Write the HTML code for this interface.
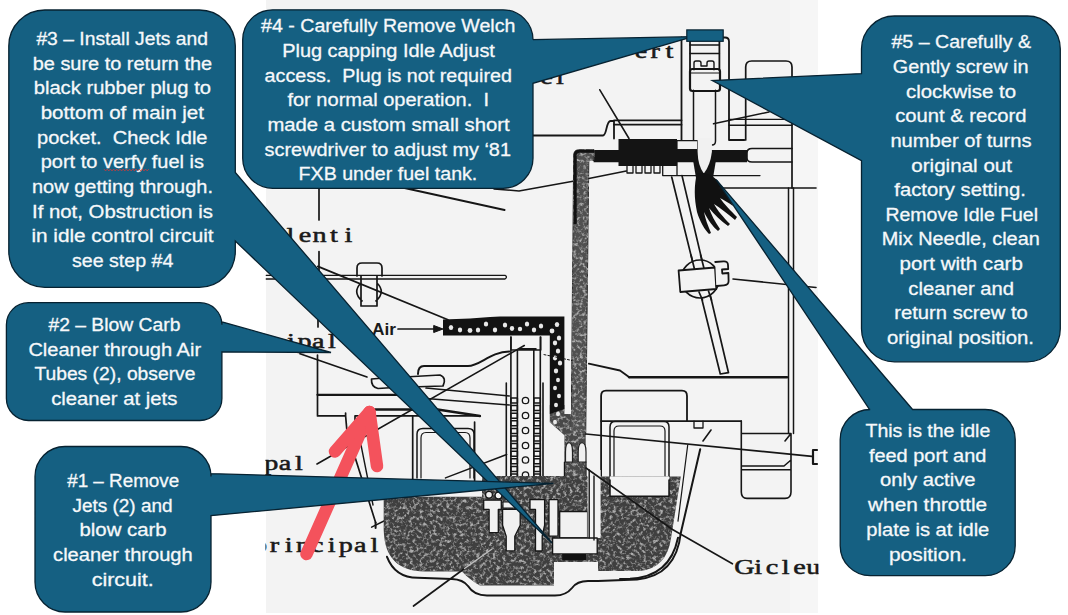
<!DOCTYPE html>
<html><head><meta charset="utf-8"><style>
html,body{margin:0;padding:0;background:#fff;width:1068px;height:615px;overflow:hidden}
svg{position:absolute;left:0;top:0}
text{font-family:"Liberation Sans",sans-serif}
.tw{font-family:"Liberation Serif",serif;font-weight:normal}
</style></head><body>
<svg width="1068" height="615" viewBox="0 0 1068 615">
<rect x="0" y="0" width="1068" height="615" fill="#fff"/>
<defs><clipPath id="scanclip"><rect x="265.5" y="0" width="553" height="613"/></clipPath><filter id="tex" x="0" y="0" width="1" height="1" color-interpolation-filters="sRGB"><feTurbulence type="fractalNoise" baseFrequency="0.3" numOctaves="3" seed="7" result="n"/><feColorMatrix in="n" type="matrix" values="0 0 0 0 0.68 0 0 0 0 0.68 0 0 0 0 0.68 3.4 0 0 0 -1.6" result="s"/><feComposite in="s" in2="SourceAlpha" operator="in" result="s2"/><feMerge><feMergeNode in="SourceGraphic"/><feMergeNode in="s2"/></feMerge></filter></defs>
<g id="scan"><rect x="266" y="0" width="552" height="613" fill="#f3f3f3"/><rect x="790" y="0" width="28" height="613" fill="#f6f6f6"/></g>
<g id="diag" clip-path="url(#scanclip)" fill="none" stroke="#161616" stroke-width="1.8" stroke-linecap="round" stroke-linejoin="round">
<!-- top text -->
<!-- needle assembly -->
<path d="M681.5,37.5 V140"/>
<path d="M723,37.5 H725 Q729,37.5 729,41.5 V140 H744.3"/>
<path d="M690,37.5 V70 M719.4,37.5 V70"/>
<rect x="690" y="69" width="30" height="22" rx="2.5" stroke-width="2.2"/>
<path d="M690,44.9 H719.4" stroke-width="1.5"/><path d="M690,53.6 H719.4" stroke-width="1.5"/>
<path d="M694,69.7 V63 Q694,61 696,61 H699 Q701,61 701,63 V66 H707 V63 Q707,61 709,61 H712 Q714,61 714,63 V69.7" stroke-width="1.4"/>
<path d="M690,73 H719.4" stroke-width="1.2"/>
<path d="M693.5,90.2 V141 Q693.5,145 697,145 M715.5,90.2 V141 Q715.5,145 712,145" stroke-width="1.5"/>
<path d="M745.7,140 V67 Q745.7,61 751.7,61 H786 Q792,61 792,67 V188" stroke-width="1.7"/>
<path d="M713.5,123.8 L769,112" stroke-width="1.5"/>
<path d="M729,119.4 H792" stroke-width="1.4"/><path d="M729,125.3 H792" stroke-width="1.4"/>
<!-- black band -->
<path d="M593.6,149.9 H618.5 V139.1 H677 V140.7 H697.6 V149.9 H747 V162.3 H593.6 Z" fill="#141414" stroke="none"/>
<path d="M677,140.7 H697.6 V149.7 H677 Z" fill="#f1f1f1" stroke="#161616" stroke-width="1.2"/>
<path d="M618.5,161 H677 V166 H618.5 Z" fill="#141414" stroke="none"/>
<path d="M693,160 H716 L713,178 H696 Z" fill="#141414" stroke="none"/>
<path d="M697.6,138 L697.6,152 Q698,166 703.8,173.5 Q710,166 711.9,152 L711.9,138 Z" fill="#f1f1f1" stroke="none"/>
<path d="M752,148.5 H792 M752,162 H792 M752,148.5 Q747,148.5 747,153 V158 Q747,162 752,162" stroke-width="1.6"/>
<path d="M627,166.3 V173 H633 V166.3 M636,166.3 V173 H642 V166.3 M645,166.3 V173 H651 V166.3 M654,166.3 V173 H660 V166.3" stroke-width="1.3"/>
<path d="M662.7,166 V175.6 H760 M677,175.6 V161" stroke-width="1.3"/>
<path d="M533,135.5 H603 C607,135.5 606,121 610.5,121 H614 V138.5" stroke-width="1.8"/>
<path d="M614,120.3 H681.5"/><path d="M614,124.7 H681.5"/>
<path d="M599.8,89.8 L629,138.5" stroke-width="1.6"/>
<!-- fan spray -->
<path d="M697,173 C694,185 694,198 697,212 C700,222 705,230 709,234 L711,233 C708,226 705,218 704,212 C708,220 713,227 718,231 L720,229 C715,222 711,214 709,208 C714,214 721,221 728,226 L730,224 C724,218 717,210 714,204 C720,208 728,214 735,220 L737,217 C731,211 724,204 720,198 C724,200 729,203 733,206 C729,196 722,186 717,180 L711,175 L704,173 Z" fill="#111" stroke="none"/>
<path d="M719,188 H816" stroke-width="1.6"/>
<!-- gray pipe -->
<path d="M573.7,155 Q573.7,149.8 579,149.8 H594.1 V160.5 H588.8 L585.7,435 H571.5 Z" fill="#505050" stroke="#2a2a2a" stroke-width="1" filter="url(#tex)"/>
<path d="M575.2,224 V155.5 Q575.2,151.3 579.5,151.3 H594" stroke="#111" stroke-width="3" stroke-linecap="butt"/>
<path d="M494,189 L519,191 L573,181.3 M588.8,178.5 L626.3,170.9" stroke-width="1.5"/>
<path d="M400,187 L504.6,210" stroke-width="1.8"/>
<path d="M266,275.3 H505 Q508,277 505,279 H266" stroke-width="1.3"/>
<path d="M588.8,363.6 L620,370.5 L629.3,377.3" stroke-width="1.8"/>
<path d="M629.3,377.3 H787" stroke-width="2.6"/>
<!-- left lines -->
<path d="M319,188 V220 M319,251.5 V272 M318,281 V327 M317.5,355 V415" stroke-width="1.7"/>
<path d="M357,276 V268 Q357,263 362,263 H377 Q382,263 382,268 V276 M361,276 V306 H377 V276 M361,283 Q352,292 362,301 M377,283 Q386,292 376,301" stroke-width="1.7"/>
<path d="M317.8,266.4 L448,319.8" stroke-width="1.7"/>
<text x="372" y="334.5" font-size="16" font-weight="bold" fill="#1a1a1a" stroke="none" textLength="24" lengthAdjust="spacingAndGlyphs">Air</text>
<path d="M398,329 H436" stroke-width="1.7"/><path d="M434,325.6 L443,329 L434,332.4 Z" fill="#161616" stroke-width="1"/>
<path d="M300,353.7 L367,377" stroke-width="1.7"/>
<path d="M371.5,379 L396,377 Q399,382 394,387.5 L378,388.5 Q371,387 371.5,379 Z" stroke-width="1.7"/>
<path d="M396,377.5 L440,375 Q447,378 443,386 L394,387.5" stroke-width="1.7"/>
<path d="M317.5,394.8 H400" stroke-width="2.3"/>

<path d="M317.5,415.9 H345.6 L347,431.8 L375.6,522.4 M345.6,415.9 V413 M355,415.9 H480 M355,415.9 V423.4 H362.4 V415.9" stroke-width="1.7"/>
<path d="M375,409.5 H437.6 L480,416" stroke-width="2.3"/>
<path d="M361,445 L373,505" stroke-width="1.4"/>
<path d="M317,464 L524.3,345.5" stroke-width="1.6"/>
<path d="M418,374 Q418,366 424,366 H468 C480,366 490,352 509.3,351.5" stroke-width="2"/>
<path d="M426,388.1 L509.3,396 M426,398.5 L509.3,405" stroke-width="1.5"/>
<path d="M474.6,422 V480.5 M412.7,416 V497" stroke-width="1.7"/>
<path d="M417,478 V434 Q417,428.4 423,428.4 H468 Q474,428.4 474,434 V478" stroke-width="1.5"/>
<path d="M421,478 V438 Q421,432.5 426,432.5 H465 Q470,432.5 470,438 V478" stroke-width="1.2"/>
<path d="M445.5,477.9 L506.7,454.5" stroke-width="1.5"/>
<path d="M371.6,527.2 L387,519.5" stroke-width="1.5"/>
<!-- perforated L -->
<path d="M549.8,405 H564.4 V414 H571.5 V435 L585.7,435 V476 H564.4 V435.3 L549.8,422.3 Z" fill="#484848" stroke="none" filter="url(#tex)"/>
<path d="M443,319.5 L470,318.5 L490,317 L500,316.4 H564.4 V409 L549.8,414 V335.5 H443 Z" fill="#121212" stroke="none"/>
<path d="M565.5,462 V452 Q565.5,442.6 569,442.6 Q572.5,442.6 572.5,452 V462 Z M578.2,462 V452 Q578.2,442.6 582,442.6 Q586,442.6 586,452 V462 Z" fill="#efefef" stroke="#222" stroke-width="1.2"/>
<path d="M564.4,462 V476 M586,462 V476" stroke-width="1.2"/>
<g fill="#e8e8e8" stroke="none">
<ellipse cx="451" cy="327.5" rx="2.2" ry="2.6"/><ellipse cx="460" cy="330" rx="2.2" ry="2.4"/><ellipse cx="470" cy="330.5" rx="2.4" ry="2.4"/><ellipse cx="478" cy="330" rx="2.2" ry="2.6"/><ellipse cx="486" cy="324" rx="2.2" ry="2.6"/><ellipse cx="495" cy="330" rx="2.2" ry="2.4"/><ellipse cx="505" cy="325" rx="2.2" ry="2.6"/><ellipse cx="512" cy="328.5" rx="2.2" ry="2.4"/><ellipse cx="520" cy="329" rx="2.2" ry="2.2"/><ellipse cx="527" cy="324" rx="2.2" ry="2.6"/><ellipse cx="534" cy="330" rx="2.2" ry="2.4"/><ellipse cx="541" cy="326" rx="2.2" ry="2.6"/><ellipse cx="552" cy="331" rx="2.4" ry="2.4"/><ellipse cx="557" cy="324.5" rx="2.2" ry="2.6"/>
<ellipse cx="559" cy="338" rx="2.2" ry="2.6"/><ellipse cx="555" cy="343" rx="2.2" ry="2.4"/><ellipse cx="558" cy="351" rx="2.2" ry="2.6"/><ellipse cx="555" cy="358" rx="2.2" ry="2.4"/><ellipse cx="560" cy="363" rx="2.2" ry="2.6"/><ellipse cx="556" cy="371" rx="2.2" ry="2.4"/><ellipse cx="558" cy="380" rx="2" ry="2.2"/><ellipse cx="555" cy="388" rx="2" ry="2.2"/><ellipse cx="559" cy="396" rx="2" ry="2.2"/><ellipse cx="556" cy="405" rx="2" ry="2.2"/><ellipse cx="558" cy="414" rx="2" ry="2.2"/><ellipse cx="555" cy="422" rx="2" ry="2.2"/>
</g>
<path d="M544,354.6 L572,360.5" stroke-width="1" stroke-dasharray="2 2"/>
<!-- emulsion tube -->
<path d="M506.3,383 V485 M510.9,337 V485 M517.4,350 V485 M533.8,350 V485 M540.3,337 V485 M543,383 V485" stroke-width="1.6"/>
<path d="M511,337 V350 H540.8 V337 M519.5,348.8 H536" stroke-width="1.4"/>
<g stroke-width="1.3">
<path d="M510.9,398.0 h6.5 v5 h-6.5 z M510.9,405.6 h6.5 v5 h-6.5 z M510.9,413.2 h6.5 v5 h-6.5 z M510.9,420.8 h6.5 v5 h-6.5 z M510.9,428.4 h6.5 v5 h-6.5 z M510.9,436.0 h6.5 v5 h-6.5 z M510.9,443.6 h6.5 v5 h-6.5 z M510.9,451.2 h6.5 v5 h-6.5 z M510.9,458.8 h6.5 v5 h-6.5 z M510.9,466.4 h6.5 v5 h-6.5 z M510.9,474.0 h6.5 v5 h-6.5 z" stroke-width="1.5"/>
<path d="M533.8,398.0 h6.5 v5 h-6.5 z M533.8,405.6 h6.5 v5 h-6.5 z M533.8,413.2 h6.5 v5 h-6.5 z M533.8,420.8 h6.5 v5 h-6.5 z M533.8,428.4 h6.5 v5 h-6.5 z M533.8,436.0 h6.5 v5 h-6.5 z M533.8,443.6 h6.5 v5 h-6.5 z M533.8,451.2 h6.5 v5 h-6.5 z M533.8,458.8 h6.5 v5 h-6.5 z M533.8,466.4 h6.5 v5 h-6.5 z M533.8,474.0 h6.5 v5 h-6.5 z" stroke-width="1.5"/>
<circle cx="525.5" cy="400.5" r="3.2"/><circle cx="525.5" cy="415.5" r="3.2"/><circle cx="525.5" cy="430.5" r="3.2"/><circle cx="525.5" cy="445.5" r="3.2"/><circle cx="525.5" cy="460" r="3.2"/><circle cx="525.5" cy="475" r="3.2"/>
</g>
<!-- right chamber -->
<path d="M601.1,560 V396 Q601.1,390.7 606,390.7 H682 Q687,390.7 687,396 V421" stroke-width="1.8"/>
<path d="M601.1,421.1 H741.3" stroke-width="1.7"/>
<path d="M694,421.1 V428 H703 V421.1" stroke-width="1.3"/>
<path d="M610,496.3 V427 Q610,421.5 615,421.5 H664 Q669,421.5 669,427 V496.3" stroke-width="1.5"/>
<path d="M614,492 V431 Q614,426 619,426 H660 Q665,426 665,431 V492" stroke-width="1.2"/>
<path d="M711,430 L703,441" stroke-width="1.6"/>
<path d="M586,434 L812,456.4" stroke-width="1.7"/>
<path d="M813,450 V464 M813,450 H817 M813,464 H817" stroke-width="2.2"/>
<path d="M741.3,433.5 H791 L785,441 M791,433.5 V492 Q791,498.4 785,498.4 H747 Q741.3,498.4 741.3,492 V421 M741.3,466 H784 L791,460 M741.3,469.7 H791" stroke-width="1.6"/>
<path d="M788.5,188 V433.5 M793.5,188 V433.5" stroke-width="1.5"/>
<!-- bowl -->
<path d="M383.7,499 Q384,496.8 387,496.8 H482 V476 H564.4 V476 H587 V476.6 H680.8 L671.1,537.8 Q667,568 640,571 H598 V562 H554 V585.6 H480 Q470,580 462,571.5 L425,571.5 C398,571 384.5,558 383.7,530 Z" fill="#3f3f3f" stroke="none" filter="url(#tex)"/>
<path d="M610,476.6 H669 V496.3 H610 Z" fill="#f3f3f3" stroke="none"/>
<path d="M610,480 V496.3 H669 V480" stroke-width="1.5"/>
<!-- jets (white) -->
<g fill="#f1f1f1" stroke="#161616" stroke-width="1.3">
<path d="M483.7,500.2 H501.3 V509.4 H498.3 V532.6 H489.1 V509.4 H483.7 Z"/>
<path d="M502.6,509.4 H520.2 V525.2 L514.8,536.2 V550.9 H506.2 V536.2 L502.6,525.2 Z"/>
<path d="M503,502 H515 V508 H503 Z" stroke-width="1.1"/>
<path d="M530,499.6 H544.6 V525.2 L542.2,536 V551 H535.5 V536 L535.5,525.2 V509.4 H530 Z"/>
<path d="M549,499.6 H558 V536.2 H549 Z"/>
<path d="M559.7,511.5 H587.6 V538 H559.7 Z"/>
<path d="M587.6,470 H600.6 V538 H587.6 Z" stroke="none"/>
<path d="M552.6,538 H597.2 V553.9 H552.6 Z"/>
<circle cx="489" cy="494.7" r="3.4"/><circle cx="498.5" cy="495.5" r="3.4"/>
</g>
<path d="M562.2,554 H586 V560.3 H562.2 Z" fill="#111" stroke="none"/>
<path d="M589.2,470 V538 M594,476 V540" stroke-width="1.4"/>
<!-- bowl walls -->
<path d="M375.6,522.4 V528 M387,556.8 Q395,577.7 417.7,577.7 L452,579 Q463,579.5 468,586 Q474,595.5 487,595.5 H555 Q566,595.5 572,588 Q577,581 588,581 H598 M620,579 L630,578.8 Q670,577 678,537.8" stroke-width="2"/>
<path d="M687.7,445.2 L678,521.2" stroke-width="1.2"/>
<path d="M700.2,449.3 L680.8,533 Q676,576 637,579.4 L598,581" stroke-width="2"/>
<path d="M413.5,606 L464.5,568.5" stroke-width="1.7"/><path d="M464.5,568.5 L492,549" stroke="#bdbdbd" stroke-width="1.4"/>
<path d="M586,468 L672.5,529.5 L732.4,563.8" stroke-width="1.6"/>
<!-- rod / throttle -->
<path d="M671.7,177 L720.3,374 M682,175.6 L728.5,372.7 M720.3,374 L728.5,372.7" stroke-width="1.7"/>
<circle cx="700" cy="279" r="19" fill="#f3f3f3" stroke-width="1.7"/>
<path d="M691,255 L694.8,270.5 M700.6,255 L704.3,269.5" stroke-width="1.7"/>
<path d="M678.6,270.5 L715,267.5 L716.3,289 L680.3,292 Z" fill="#f3f3f3" stroke-width="1.8"/>
<path d="M715.2,262 L723.5,261.3 Q728,261 728,265 L728.2,269 L722,269.5 L722.3,273.5 L728.4,273 L728.6,281 Q728.6,285 724,285.3 L716.3,286" fill="#f3f3f3" stroke-width="1.8"/>
<path d="M699,292 L702.5,300 M708.5,291 L711.5,300" stroke-width="1.7"/>
<path d="M733,279 L816,287.5" stroke-width="1.6"/>
<g class="lbl"><text class="tw" transform="translate(641.0,58.3) scale(1.28,1)" font-size="22" text-anchor="middle" fill="#1a1a1a" stroke="#1a1a1a" stroke-width="0.55">e</text><text class="tw" transform="translate(655.2,58.3) scale(1.28,1)" font-size="22" text-anchor="middle" fill="#1a1a1a" stroke="#1a1a1a" stroke-width="0.55">r</text><text class="tw" transform="translate(669.4,58.3) scale(1.28,1)" font-size="22" text-anchor="middle" fill="#1a1a1a" stroke="#1a1a1a" stroke-width="0.55">t</text></g>
<g class="lbl"><text class="tw" transform="translate(546.5,84.0) scale(1.28,1)" font-size="22" text-anchor="middle" fill="#1a1a1a" stroke="#1a1a1a" stroke-width="0.55">e</text><text class="tw" transform="translate(560.0,84.0) scale(1.28,1)" font-size="22" text-anchor="middle" fill="#1a1a1a" stroke="#1a1a1a" stroke-width="0.55">i</text></g>
<g class="lbl"><text class="tw" transform="translate(290.5,242.2) scale(1.28,1)" font-size="22" text-anchor="middle" fill="#1a1a1a" stroke="#1a1a1a" stroke-width="0.55">l</text><text class="tw" transform="translate(305.0,242.2) scale(1.28,1)" font-size="22" text-anchor="middle" fill="#1a1a1a" stroke="#1a1a1a" stroke-width="0.55">e</text><text class="tw" transform="translate(319.5,242.2) scale(1.28,1)" font-size="22" text-anchor="middle" fill="#1a1a1a" stroke="#1a1a1a" stroke-width="0.55">n</text><text class="tw" transform="translate(334.0,242.2) scale(1.28,1)" font-size="22" text-anchor="middle" fill="#1a1a1a" stroke="#1a1a1a" stroke-width="0.55">t</text><text class="tw" transform="translate(348.5,242.2) scale(1.28,1)" font-size="22" text-anchor="middle" fill="#1a1a1a" stroke="#1a1a1a" stroke-width="0.55">i</text></g>
<g class="lbl"><text class="tw" transform="translate(290.8,347.9) scale(1.28,1)" font-size="22" text-anchor="middle" fill="#1a1a1a" stroke="#1a1a1a" stroke-width="0.55">i</text><text class="tw" transform="translate(304.5,347.9) scale(1.28,1)" font-size="22" text-anchor="middle" fill="#1a1a1a" stroke="#1a1a1a" stroke-width="0.55">p</text><text class="tw" transform="translate(318.2,347.9) scale(1.28,1)" font-size="22" text-anchor="middle" fill="#1a1a1a" stroke="#1a1a1a" stroke-width="0.55">a</text><text class="tw" transform="translate(331.9,347.9) scale(1.28,1)" font-size="22" text-anchor="middle" fill="#1a1a1a" stroke="#1a1a1a" stroke-width="0.55">l</text></g>
<g class="lbl"><text class="tw" transform="translate(744.3,574.0) scale(1.28,1)" font-size="22" text-anchor="middle" fill="#1a1a1a" stroke="#1a1a1a" stroke-width="0.55">G</text><text class="tw" transform="translate(758.1,574.0) scale(1.28,1)" font-size="22" text-anchor="middle" fill="#1a1a1a" stroke="#1a1a1a" stroke-width="0.55">i</text><text class="tw" transform="translate(771.9,574.0) scale(1.28,1)" font-size="22" text-anchor="middle" fill="#1a1a1a" stroke="#1a1a1a" stroke-width="0.55">c</text><text class="tw" transform="translate(785.7,574.0) scale(1.28,1)" font-size="22" text-anchor="middle" fill="#1a1a1a" stroke="#1a1a1a" stroke-width="0.55">l</text><text class="tw" transform="translate(799.5,574.0) scale(1.28,1)" font-size="22" text-anchor="middle" fill="#1a1a1a" stroke="#1a1a1a" stroke-width="0.55">e</text><text class="tw" transform="translate(813.3,574.0) scale(1.28,1)" font-size="22" text-anchor="middle" fill="#1a1a1a" stroke="#1a1a1a" stroke-width="0.55">u</text></g>
<g class="lbl"><text class="tw" transform="translate(271.3,469.7) scale(1.28,1)" font-size="22" text-anchor="middle" fill="#1a1a1a" stroke="#1a1a1a" stroke-width="0.55">p</text><text class="tw" transform="translate(285.1,469.7) scale(1.28,1)" font-size="22" text-anchor="middle" fill="#1a1a1a" stroke="#1a1a1a" stroke-width="0.55">a</text><text class="tw" transform="translate(298.9,469.7) scale(1.28,1)" font-size="22" text-anchor="middle" fill="#1a1a1a" stroke="#1a1a1a" stroke-width="0.55">l</text></g>
<g class="lbl"><text class="tw" transform="translate(260.1,551.9) scale(1.28,1)" font-size="22" text-anchor="middle" fill="#1a1a1a" stroke="#1a1a1a" stroke-width="0.55">p</text><text class="tw" transform="translate(274.4,551.9) scale(1.28,1)" font-size="22" text-anchor="middle" fill="#1a1a1a" stroke="#1a1a1a" stroke-width="0.55">r</text><text class="tw" transform="translate(288.7,551.9) scale(1.28,1)" font-size="22" text-anchor="middle" fill="#1a1a1a" stroke="#1a1a1a" stroke-width="0.55">i</text><text class="tw" transform="translate(303.0,551.9) scale(1.28,1)" font-size="22" text-anchor="middle" fill="#1a1a1a" stroke="#1a1a1a" stroke-width="0.55">n</text><text class="tw" transform="translate(317.3,551.9) scale(1.28,1)" font-size="22" text-anchor="middle" fill="#1a1a1a" stroke="#1a1a1a" stroke-width="0.55">c</text><text class="tw" transform="translate(331.6,551.9) scale(1.28,1)" font-size="22" text-anchor="middle" fill="#1a1a1a" stroke="#1a1a1a" stroke-width="0.55">i</text><text class="tw" transform="translate(345.9,551.9) scale(1.28,1)" font-size="22" text-anchor="middle" fill="#1a1a1a" stroke="#1a1a1a" stroke-width="0.55">p</text><text class="tw" transform="translate(360.2,551.9) scale(1.28,1)" font-size="22" text-anchor="middle" fill="#1a1a1a" stroke="#1a1a1a" stroke-width="0.55">a</text><text class="tw" transform="translate(374.5,551.9) scale(1.28,1)" font-size="22" text-anchor="middle" fill="#1a1a1a" stroke="#1a1a1a" stroke-width="0.55">l</text></g>
</g>
<g fill="none" stroke="#f4525c" stroke-width="12.5" stroke-linecap="round" stroke-linejoin="round"><path d="M306.5,554 L369.5,412"/><path d="M335,451.5 L369.5,412 L377,466"/></g>
<path d="M44.8,10.0 L199.3,10.0 A36,36 0 0 1 235.3,46.0 L235.3,172.5 L552.0,543.0 L235.3,241.0 L235.3,251.3 A36,36 0 0 1 199.3,287.3 L44.8,287.3 A36,36 0 0 1 8.8,251.3 L8.8,46.0 A36,36 0 0 1 44.8,10.0 Z" fill="#156082" stroke="#072231" stroke-width="1.3" stroke-linejoin="miter"/>
<path d="M272.7,9.8 L503.0,9.8 A30,30 0 0 1 533.0,39.8 L533.0,39.7 L693.0,36.7 L533.0,83.3 L533.0,158.3 A30,30 0 0 1 503.0,188.3 L272.7,188.3 A30,30 0 0 1 242.7,158.3 L242.7,39.8 A30,30 0 0 1 272.7,9.8 Z" fill="#156082" stroke="#072231" stroke-width="1.3" stroke-linejoin="miter"/>
<path d="M894.5,16.0 L1027.3,16.0 A33,33 0 0 1 1060.3,49.0 L1060.3,328.8 A33,33 0 0 1 1027.3,361.8 L894.5,361.8 A33,33 0 0 1 861.5,328.8 L861.5,160.7 L712.3,80.5 L861.5,73.6 L861.5,49.0 A33,33 0 0 1 894.5,16.0 Z" fill="#156082" stroke="#072231" stroke-width="1.3" stroke-linejoin="miter"/>
<path d="M870.2,409.5 L869.6,409.5 L716.2,179.6 L912.6,409.5 L985.2,409.5 A30,30 0 0 1 1015.2,439.5 L1015.2,545.7 A30,30 0 0 1 985.2,575.7 L870.2,575.7 A30,30 0 0 1 840.2,545.7 L840.2,439.5 A30,30 0 0 1 870.2,409.5 Z" fill="#156082" stroke="#072231" stroke-width="1.3" stroke-linejoin="miter"/>
<path d="M28.4,302.7 L199.9,302.7 A22,22 0 0 1 221.9,324.7 L221.9,321.8 L331.0,352.5 L221.9,352.0 L221.9,398.5 A22,22 0 0 1 199.9,420.5 L28.4,420.5 A22,22 0 0 1 6.4,398.5 L6.4,324.7 A22,22 0 0 1 28.4,302.7 Z" fill="#156082" stroke="#072231" stroke-width="1.3" stroke-linejoin="miter"/>
<path d="M65.0,446.5 L181.0,446.5 A30,30 0 0 1 211.0,476.5 L211.0,473.6 L553.5,483.4 L211.0,515.7 L211.0,582.0 A30,30 0 0 1 181.0,612.0 L65.0,612.0 A30,30 0 0 1 35.0,582.0 L35.0,476.5 A30,30 0 0 1 65.0,446.5 Z" fill="#156082" stroke="#072231" stroke-width="1.3" stroke-linejoin="miter"/>
<rect x="686.8" y="29.9" width="36.4" height="11.4" fill="#156082" stroke="#072231" stroke-width="1.2"/>
<text x="36.4" y="44.9" font-size="18.7" fill="#f6f8fa" stroke="#f6f8fa" stroke-width="0.3" textLength="171.6" lengthAdjust="spacingAndGlyphs" xml:space="preserve">#3 – Install Jets and</text>
<text x="32.7" y="69.6" font-size="18.7" fill="#f6f8fa" stroke="#f6f8fa" stroke-width="0.3" textLength="179.5" lengthAdjust="spacingAndGlyphs" xml:space="preserve">be sure to return the</text>
<text x="33.7" y="94.2" font-size="18.7" fill="#f6f8fa" stroke="#f6f8fa" stroke-width="0.3" textLength="177.3" lengthAdjust="spacingAndGlyphs" xml:space="preserve">black rubber plug to</text>
<text x="40.7" y="118.9" font-size="18.7" fill="#f6f8fa" stroke="#f6f8fa" stroke-width="0.3" textLength="163.3" lengthAdjust="spacingAndGlyphs" xml:space="preserve">bottom of main jet</text>
<text x="37.0" y="143.5" font-size="18.7" fill="#f6f8fa" stroke="#f6f8fa" stroke-width="0.3" textLength="170.5" lengthAdjust="spacingAndGlyphs" xml:space="preserve">pocket.  Check Idle</text>
<text x="40.7" y="168.2" font-size="18.7" fill="#f6f8fa" stroke="#f6f8fa" stroke-width="0.3" textLength="163.3" lengthAdjust="spacingAndGlyphs" xml:space="preserve">port to verfy fuel is</text>
<text x="32.0" y="192.8" font-size="18.7" fill="#f6f8fa" stroke="#f6f8fa" stroke-width="0.3" textLength="181.0" lengthAdjust="spacingAndGlyphs" xml:space="preserve">now getting through.</text>
<text x="32.0" y="217.5" font-size="18.7" fill="#f6f8fa" stroke="#f6f8fa" stroke-width="0.3" textLength="181.0" lengthAdjust="spacingAndGlyphs" xml:space="preserve">If not, Obstruction is</text>
<text x="31.4" y="242.1" font-size="18.7" fill="#f6f8fa" stroke="#f6f8fa" stroke-width="0.3" textLength="182.2" lengthAdjust="spacingAndGlyphs" xml:space="preserve">in idle control circuit</text>
<text x="72.0" y="266.8" font-size="18.7" fill="#f6f8fa" stroke="#f6f8fa" stroke-width="0.3" textLength="101.4" lengthAdjust="spacingAndGlyphs" xml:space="preserve">see step #4</text>
<text x="261.1" y="32.4" font-size="18.7" fill="#f6f8fa" stroke="#f6f8fa" stroke-width="0.3" textLength="254.3" lengthAdjust="spacingAndGlyphs" xml:space="preserve">#4 - Carefully Remove Welch</text>
<text x="282.2" y="57.0" font-size="18.7" fill="#f6f8fa" stroke="#f6f8fa" stroke-width="0.3" textLength="212.7" lengthAdjust="spacingAndGlyphs" xml:space="preserve">Plug capping Idle Adjust</text>
<text x="264.6" y="81.6" font-size="18.7" fill="#f6f8fa" stroke="#f6f8fa" stroke-width="0.3" textLength="247.3" lengthAdjust="spacingAndGlyphs" xml:space="preserve">access.  Plug is not required</text>
<text x="287.4" y="106.3" font-size="18.7" fill="#f6f8fa" stroke="#f6f8fa" stroke-width="0.3" textLength="201.6" lengthAdjust="spacingAndGlyphs" xml:space="preserve">for normal operation.  I</text>
<text x="267.4" y="130.9" font-size="18.7" fill="#f6f8fa" stroke="#f6f8fa" stroke-width="0.3" textLength="242.2" lengthAdjust="spacingAndGlyphs" xml:space="preserve">made a custom small short</text>
<text x="264.6" y="155.5" font-size="18.7" fill="#f6f8fa" stroke="#f6f8fa" stroke-width="0.3" textLength="246.4" lengthAdjust="spacingAndGlyphs" xml:space="preserve">screwdriver to adjust my ‘81</text>
<text x="298.6" y="180.2" font-size="18.7" fill="#f6f8fa" stroke="#f6f8fa" stroke-width="0.3" textLength="178.7" lengthAdjust="spacingAndGlyphs" xml:space="preserve">FXB under fuel tank.</text>
<text x="891.4" y="48.3" font-size="18.7" fill="#f6f8fa" stroke="#f6f8fa" stroke-width="0.3" textLength="139.6" lengthAdjust="spacingAndGlyphs" xml:space="preserve">#5 – Carefully &amp;</text>
<text x="892.8" y="72.9" font-size="18.7" fill="#f6f8fa" stroke="#f6f8fa" stroke-width="0.3" textLength="135.8" lengthAdjust="spacingAndGlyphs" xml:space="preserve">Gently screw in</text>
<text x="906.0" y="97.6" font-size="18.7" fill="#f6f8fa" stroke="#f6f8fa" stroke-width="0.3" textLength="110.1" lengthAdjust="spacingAndGlyphs" xml:space="preserve">clockwise to</text>
<text x="895.2" y="122.2" font-size="18.7" fill="#f6f8fa" stroke="#f6f8fa" stroke-width="0.3" textLength="131.4" lengthAdjust="spacingAndGlyphs" xml:space="preserve">count &amp; record</text>
<text x="890.4" y="146.8" font-size="18.7" fill="#f6f8fa" stroke="#f6f8fa" stroke-width="0.3" textLength="141.2" lengthAdjust="spacingAndGlyphs" xml:space="preserve">number of turns</text>
<text x="911.3" y="171.5" font-size="18.7" fill="#f6f8fa" stroke="#f6f8fa" stroke-width="0.3" textLength="100.7" lengthAdjust="spacingAndGlyphs" xml:space="preserve">original out</text>
<text x="894.3" y="196.1" font-size="18.7" fill="#f6f8fa" stroke="#f6f8fa" stroke-width="0.3" textLength="131.5" lengthAdjust="spacingAndGlyphs" xml:space="preserve">factory setting.</text>
<text x="885.5" y="220.7" font-size="18.7" fill="#f6f8fa" stroke="#f6f8fa" stroke-width="0.3" textLength="152.5" lengthAdjust="spacingAndGlyphs" xml:space="preserve">Remove Idle Fuel</text>
<text x="881.7" y="245.4" font-size="18.7" fill="#f6f8fa" stroke="#f6f8fa" stroke-width="0.3" textLength="158.1" lengthAdjust="spacingAndGlyphs" xml:space="preserve">Mix Needle, clean</text>
<text x="899.6" y="270.0" font-size="18.7" fill="#f6f8fa" stroke="#f6f8fa" stroke-width="0.3" textLength="123.2" lengthAdjust="spacingAndGlyphs" xml:space="preserve">port with carb</text>
<text x="908.3" y="294.6" font-size="18.7" fill="#f6f8fa" stroke="#f6f8fa" stroke-width="0.3" textLength="105.7" lengthAdjust="spacingAndGlyphs" xml:space="preserve">cleaner and</text>
<text x="894.3" y="319.2" font-size="18.7" fill="#f6f8fa" stroke="#f6f8fa" stroke-width="0.3" textLength="133.5" lengthAdjust="spacingAndGlyphs" xml:space="preserve">return screw to</text>
<text x="887.0" y="343.8" font-size="18.7" fill="#f6f8fa" stroke="#f6f8fa" stroke-width="0.3" textLength="147.0" lengthAdjust="spacingAndGlyphs" xml:space="preserve">original position.</text>
<text x="865.5" y="437.0" font-size="18.7" fill="#f6f8fa" stroke="#f6f8fa" stroke-width="0.3" textLength="124.8" lengthAdjust="spacingAndGlyphs" xml:space="preserve">This is the idle</text>
<text x="868.9" y="461.7" font-size="18.7" fill="#f6f8fa" stroke="#f6f8fa" stroke-width="0.3" textLength="117.5" lengthAdjust="spacingAndGlyphs" xml:space="preserve">feed port and</text>
<text x="880.1" y="486.4" font-size="18.7" fill="#f6f8fa" stroke="#f6f8fa" stroke-width="0.3" textLength="95.4" lengthAdjust="spacingAndGlyphs" xml:space="preserve">only active</text>
<text x="868.1" y="511.1" font-size="18.7" fill="#f6f8fa" stroke="#f6f8fa" stroke-width="0.3" textLength="119.1" lengthAdjust="spacingAndGlyphs" xml:space="preserve">when throttle</text>
<text x="866.3" y="535.8" font-size="18.7" fill="#f6f8fa" stroke="#f6f8fa" stroke-width="0.3" textLength="123.0" lengthAdjust="spacingAndGlyphs" xml:space="preserve">plate is at idle</text>
<text x="888.9" y="560.5" font-size="18.7" fill="#f6f8fa" stroke="#f6f8fa" stroke-width="0.3" textLength="78.0" lengthAdjust="spacingAndGlyphs" xml:space="preserve">position.</text>
<text x="48.4" y="330.7" font-size="18.7" fill="#f6f8fa" stroke="#f6f8fa" stroke-width="0.3" textLength="132.1" lengthAdjust="spacingAndGlyphs" xml:space="preserve">#2 – Blow Carb</text>
<text x="28.4" y="355.5" font-size="18.7" fill="#f6f8fa" stroke="#f6f8fa" stroke-width="0.3" textLength="172.7" lengthAdjust="spacingAndGlyphs" xml:space="preserve">Cleaner through Air</text>
<text x="34.4" y="380.2" font-size="18.7" fill="#f6f8fa" stroke="#f6f8fa" stroke-width="0.3" textLength="161.1" lengthAdjust="spacingAndGlyphs" xml:space="preserve">Tubes (2), observe</text>
<text x="51.2" y="404.9" font-size="18.7" fill="#f6f8fa" stroke="#f6f8fa" stroke-width="0.3" textLength="126.1" lengthAdjust="spacingAndGlyphs" xml:space="preserve">cleaner at jets</text>
<text x="67.2" y="486.9" font-size="18.7" fill="#f6f8fa" stroke="#f6f8fa" stroke-width="0.3" textLength="112.0" lengthAdjust="spacingAndGlyphs" xml:space="preserve">#1 – Remove</text>
<text x="72.4" y="511.6" font-size="18.7" fill="#f6f8fa" stroke="#f6f8fa" stroke-width="0.3" textLength="100.2" lengthAdjust="spacingAndGlyphs" xml:space="preserve">Jets (2) and</text>
<text x="79.5" y="536.2" font-size="18.7" fill="#f6f8fa" stroke="#f6f8fa" stroke-width="0.3" textLength="87.2" lengthAdjust="spacingAndGlyphs" xml:space="preserve">blow carb</text>
<text x="53.1" y="560.8" font-size="18.7" fill="#f6f8fa" stroke="#f6f8fa" stroke-width="0.3" textLength="139.6" lengthAdjust="spacingAndGlyphs" xml:space="preserve">cleaner through</text>
<text x="91.7" y="585.5" font-size="18.7" fill="#f6f8fa" stroke="#f6f8fa" stroke-width="0.3" textLength="62.1" lengthAdjust="spacingAndGlyphs" xml:space="preserve">circuit.</text>
<polyline points="104.0,169.1 105.6,170.9 107.2,169.1 108.8,170.9 110.4,169.1 112.0,170.9 113.6,169.1 115.2,170.9 116.8,169.1 118.4,170.9 120.0,169.1 121.6,170.9 123.2,169.1 124.8,170.9 126.4,169.1 128.0,170.9 129.6,169.1 131.2,170.9 132.8,169.1 134.4,170.9 136.0,169.1 137.6,170.9 139.2,169.1 140.8,170.9 142.4,169.1 144.0,170.9 145.6,169.1 147.2,170.9 148.8,169.1" fill="none" stroke="#d23a3a" stroke-width="0.8"/>
</svg>
</body></html>
